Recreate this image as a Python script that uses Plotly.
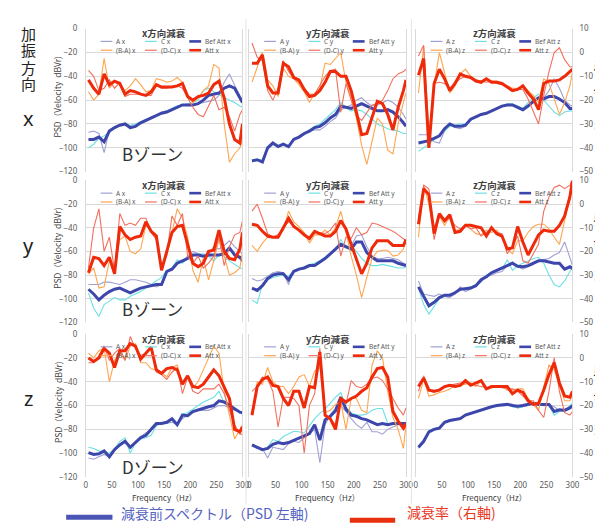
import plotly.graph_objects as go

# ---------------- data ----------------
FREQ = [5, 15, 25, 35, 45, 55, 65, 75, 85, 95, 105, 115, 125, 135, 145, 155, 165, 175,
        185, 195, 205, 215, 225, 235, 245, 255, 265, 275, 285, 295, 300]

X_TICKS = [0, 50, 100, 150, 200, 250, 300]
LEFT_TICKS = [0, -20, -40, -60, -80, -100, -120]
RIGHT_TICKS = [10, 0, -10, -20, -30, -40, -50]
DIRS = ["x", "y", "z"]
PANEL_TITLES = ["x方向減衰", "y方向減衰", "z方向減衰"]
ROW_LABELS = ["x", "y", "z"]
ZONE_LABELS = ["Bゾーン", "Bゾーン", "Dゾーン"]

# row: excitation x / column: direction x
xx_A = [-87,-86,-88,-104,-85,-83,-81,-80,-84,-82,-79,-77,-74,-73,-70,-69,-67,-65,-64,-64,-64,-63,-62,-61,-60,-56,-45,-38,-48,-57,-60]
xx_C = [-100,-97,-92,-90,-87,-84,-81,-80,-81,-80,-78,-76,-75,-73,-71,-69,-67,-65,-64,-63,-62,-60,-52,-50,-53,-55,-58,-60,-62,-65,-66]
xx_bef = [-93,-93,-91,-95,-86,-83,-81,-80,-83,-82,-79,-77,-75,-73,-71,-70,-68,-66,-64,-64,-64,-63,-60,-56,-55,-54,-50,-48,-50,-58,-62]
xx_ba = [-16.5,-20,-17.5,-2.5,-15,-12.5,-13.5,-16,-14,-11,-13.5,-16.5,-16,-11,-11.5,-12.5,-12,-10.5,-12.5,-17.5,-21,-19,-16,-14,-5,-6.5,-30,-46,-42.5,-40,-36.5]
xx_dc = [-7.5,-10,-16,-15,-11.5,-15,-12.5,-18.5,-17.5,-17.5,-17.5,-18,-18,-14,-15,-15,-14.5,-14,-15,-19,-23,-26,-27,-22.5,-18,-24,-23,-27,-33,-26,-24]
xx_att = [-11.5,-15,-17.5,-9,-13.5,-12,-13,-17.5,-16,-16.5,-17.5,-18,-16.5,-13.5,-14.5,-14.5,-14.5,-14,-13,-18.5,-20,-18.5,-18,-17,-13.5,-12,-19,-30,-36.5,-38,-30]

xy_A = [-112,-110,-111,-101,-97,-99,-97,-99,-93,-91,-89,-86,-85,-85,-82,-78,-75,-68,-66,-64,-60,-58,-62,-65,-64,-62,-60,-62,-66,-72,-76]
xy_C = [-110,-110,-110,-100,-97,-98,-96,-99,-92,-91,-88,-85,-82,-80,-76,-72,-68,-62,-66,-69,-68,-69,-72,-76,-80,-82,-84,-85,-86,-88,-88]
xy_bef = [-111,-110,-112,-100,-96,-99,-97,-99,-93,-91,-88,-86,-83,-82,-79,-75,-72,-65,-66,-67,-65,-63,-65,-67,-69,-69,-68,-70,-74,-79,-82]
xy_ba = [-12.5,-6.5,0,-11.5,-14,-18.5,-6.5,-10,-11,-13.5,-16.5,-21,-17,-15,-4.5,-5,-2.5,0,-12.5,-19,-27.5,-39,-47,-37,-27.5,-30,-41,-42.5,-30,-21,-17]
xy_dc = [4,-2,-3.5,-16,-20,-15,-3.5,-8,-11,-12.5,-15,-17.5,-17.5,-14,-10,-7.5,-7,-25,-13,-20,-26.5,-28.5,-25,-22,-21.5,-20,-16,-11,-9,-8,-7]
xy_att = [-4.5,-4.5,-1,-14,-17,-17,-4.5,-6,-10.5,-11.5,-15.5,-18.5,-18,-16,-12.5,-8,-8,-10,-10,-16,-25,-34.5,-34,-27.5,-20.5,-21.5,-26,-32.5,-23,-16,-11.5]

xz_A = [-89,-89,-89,-95,-96,-86,-81,-83,-84,-82,-77,-74,-72,-71,-69,-67,-65,-64,-64,-65,-69,-65,-62,-58,-58,-52,-42,-50,-60,-64,-65]
xz_C = [-103,-100,-97,-93,-90,-86,-82,-81,-80,-80,-77,-74,-72,-71,-69,-67,-65,-63,-63,-65,-67,-62,-58,-55,-60,-65,-70,-73,-70,-69,-69]
xz_bef = [-96,-95,-94,-92,-90,-84,-80,-82,-82,-81,-76,-74,-72,-71,-69,-67,-65,-64,-64,-66,-68,-65,-61,-58,-59,-57,-57,-59,-62,-67,-67]
xz_ba = [-17,2.5,-34,-14,0,-9,-17,-14,-9,-7,-10,-11.5,-12,-11,-12,-12,-13,-14,-15,-15,-14,-16,-18,-21,-11,-13,-20,-26,-21,-14,-8]
xz_dc = [-1.5,3,-39,-13,-12.5,-13,-15,-13,-11,-10,-10.5,-11.5,-12,-12.5,-12,-13,-13.5,-14,-15.5,-15.5,-15.5,-19.5,-25,-30,-18,-8,0,2,-3,-6,-6]
xz_att = [-9.5,-2.5,-40,-13,-7,-11,-16,-13,-9,-10,-10.5,-12,-12.5,-11,-12.5,-12.5,-13,-14.5,-16,-15.5,-14,-17,-19.5,-24,-13,-12,-12,-11.5,-10,-8,-7]

yx_A = [-88,-88,-88,-86,-86,-87,-88,-86,-84,-84,-85,-86,-88,-90,-88,-77,-74,-70,-68,-64,-60,-62,-64,-62,-56,-58,-55,-51,-56,-60,-62]
yx_C = [-95,-108,-115,-105,-102,-99,-101,-101,-98,-96,-94,-91,-88,-85,-82,-76,-74,-67,-70,-66,-64,-62,-62,-64,-68,-63,-64,-68,-71,-74,-75]
yx_bef = [-92,-96,-101,-97,-94,-92,-91,-93,-95,-93,-91,-90,-89,-88,-88,-77,-75,-70,-68,-66,-63,-63,-64,-63,-63,-63,-62,-57,-63,-65,-68]
yx_ba = [-29.5,-27,-35.5,-35,-24,-27,-15,-13.5,-20,-21,-19,-9,-11,-13,-27,-22,-12,-2,-6,-14,-28,-33,-23,-32,-24,-15,-22,-30,-29,-27,-20]
yx_dc = [-27,-10,-2,-20,-14,-28,-4,-9,-8,-9,-6,-6,-12,-15,-26,-21,-5,-9,-4,-22,-25,-22,-27,-25,-22,-14,-26,-18,-13,-12,-7]
yx_att = [-29,-22.5,-23,-26,-22.5,-29.5,-9.5,-13,-15,-14,-13.5,-7.5,-11.5,-13.5,-28,-20,-12,-9.5,-9,-17,-25,-26.5,-25,-20,-19.5,-11,-20,-23,-23.5,-19,-12]

yy_A = [-83,-85,-84,-81,-78,-77,-78,-88,-76,-75,-74,-72,-71,-69,-66,-62,-58,-55,-57,-55,-47,-46,-56,-64,-66,-66,-65,-66,-67,-70,-71]
yy_C = [-101,-104,-88,-84,-82,-81,-80,-81,-77,-75,-73,-71,-70,-68,-65,-62,-58,-50,-57,-55,-60,-66,-70,-72,-72,-71,-72,-73,-74,-74,-73]
yy_bef = [-91,-93,-89,-83,-80,-79,-79,-84,-77,-75,-74,-72,-72,-69,-66,-62,-58,-54,-56,-58,-52,-52,-61,-65,-68,-68,-68,-68,-70,-71,-72]
yy_ba = [-17.5,-20,-16.5,-14,-14,-13,-11,-3,-7.5,-9.5,-12,-16.5,-13,-13,-11,-13,-10,-3,-12,-22,-30,-39.5,-31,-23,-20,-19.5,-19.5,-22,-21.5,-19,-15.5]
yy_dc = [-3,0,-6,-12.5,-14,-13,-10,-7.5,-9,-11,-13,-15,-12,-12,-12.5,-11,-8,-22,-14,-14.5,-10,-13,-12,-8,-8.5,-9.5,-10.5,-11.5,-13,-14.5,-15.5]
yy_att = [-8.5,-9,-11.5,-13.5,-14,-14,-10,-6,-9.5,-11,-13,-14.5,-11.5,-12.5,-13.5,-13.5,-11.5,-7,-10.5,-17,-23,-29.5,-25,-18.5,-15.5,-15.5,-15.5,-17.5,-17.5,-17.5,-15]

yz_A = [-85,-96,-97,-98,-96,-98,-99,-96,-90,-94,-92,-89,-86,-81,-80,-78,-77,-72,-69,-73,-75,-73,-71,-68,-67,-66,-63,-61,-52,-65,-72]
yz_C = [-91,-105,-113,-106,-100,-98,-96,-95,-92,-91,-90,-88,-84,-80,-78,-76,-75,-67,-76,-72,-70,-68,-66,-65,-70,-80,-88,-90,-85,-77,-74]
yz_bef = [-90,-98,-106,-103,-99,-97,-97,-95,-92,-91.5,-91,-89,-84,-81.5,-78,-76,-74,-72,-70,-72.5,-73,-72,-70,-68,-68,-69,-70,-70,-75,-73,-74.5]
yz_ba = [-14,8,0,-12,-5,-9,-5,-11,-11,-9,-10.5,-12.5,-13,-11,-12,-11,-14,-19,-21,-15.5,-15.5,-12,-9.5,-8.5,-8.5,-10.5,-14,-17,-7,5,10]
yz_dc = [-6,8,6.5,-15,-5,-7.5,-6,-9,-10.5,-9,-10.5,-10,-13.5,-12,-10.5,-12,-12.5,-21,-18,-13.5,-24,-25,-21,-17,-3,3,7,8,6.5,8,10]
yz_att = [-8.5,6.5,4,-12.5,-4,-7,-4.5,-12,-11.5,-9,-9,-9.5,-10,-13.5,-10,-12.5,-13.5,-19,-18.5,-9.5,-16,-21.5,-17,-13,-11,-11.5,-11.5,-9,-5,3,10]

zx_A = [-104,-105,-103,-101,-103,-96,-93,-91,-95,-90,-86,-83,-80,-77,-74,-75,-74,-76,-71,-68,-65,-64,-64,-64,-62,-60,-60,-62,-64,-65,-66]
zx_C = [-95,-96,-98,-99,-100,-96,-90,-87,-100,-91,-88,-87,-85,-77,-75,-74,-72,-77,-67,-66,-63,-60,-57,-55,-53,-48,-58,-61,-63,-65,-66]
zx_bef = [-99.5,-101,-100.5,-98,-103,-97,-93,-90,-95,-91,-87,-85,-80,-75,-75,-74,-71,-76,-68,-68.5,-65,-63.5,-62,-61,-60,-56,-57,-60,-63,-65.5,-66]
zx_ba = [2,0,3,4,-10,-1,2,-1,5,6,-2,-2,-4.5,-5,-6,-8,-4,-3,-11,-8,-12.5,-10,-5,0,5,2,-14,-24,-34,-30,-28]
zx_dc = [-2,-2,1,5,-1,2,4,-1,9,4,1,2,4,-6,-7,-9,-6,-4,-15,-8,-14,-15,-13,-13,-13,-11,-15,-22,-28,-32,-32]
zx_att = [0,-1.5,0,4,2,-4,3,3,6,5,-0.5,2,4.5,-5,-6.5,-4.5,-4,-5,-11,-7.5,-12,-12.5,-11,-8,-5,-7.5,-12,-17,-30,-31,-29]

zy_A = [-94,-96,-96,-104,-95,-96,-97,-92,-90,-91,-87,-84,-80,-108,-76,-68,-66,-60,-65,-71,-76,-79,-74,-82,-82,-84,-80,-78,-76,-75,-75]
zy_C = [-93,-95,-98,-95,-88.5,-90,-86,-84,-81.5,-82,-83,-77,-71,-66.5,-63,-58,-53,-49,-61,-66,-68,-68,-67,-64,-62.5,-62.5,-75,-75,-75.5,-76,-76]
zy_bef = [-93,-95,-97,-96,-92.5,-91,-92,-91,-89,-87,-85.5,-83.5,-76,-89,-72,-69,-64,-53,-63,-68,-69,-71,-72,-74,-76,-75,-76,-75,-75,-75,-75]
zy_ba = [-24,-10,-11,-4,-10,-12,-12,-15,-12,-8,-7,-12,-5.5,-4,-23,-22,-19.5,-18.5,-30,-17,-17,-22,-23,-3,3,0,-14,-25,-30,-38,-28]
zy_dc = [-14,-12,-8,-9,-14,-29,-16.5,-16.5,-17,-20,-40,-20,-15,4,-24.5,-25.5,-28,-17,-19.5,-9.5,-12,-12.5,-11,-8.5,-8,-9.5,-13,-17,-21,-24,-21]
zy_att = [-24,-12,-9,-8,-11.5,-12,-17,-20,-14,-14,-21,-12,-12.5,2.5,-24,-25.5,-30,-17,-18.5,-17,-16,-14,-12.5,-8,-4.5,-4,-8,-22.5,-26.5,-29.5,-27.5]

zz_A = [-96,-91,-82,-80,-78,-74,-72,-71,-70,-68,-66,-65,-64,-62,-61,-60,-59.5,-59,-59,-62,-61,-60,-58,-59,-58,-59,-61,-64,-63,-61,-60]
zz_C = [-95,-90,-81,-79,-79,-74,-72,-71,-71,-67,-66,-65,-64,-62,-61,-60,-59,-59,-61,-62,-61,-58,-58,-59,-60,-60,-68,-65,-64,-60,-58]
zz_bef = [-95,-90,-82,-80,-79,-74,-72.5,-71.5,-71,-68,-66.5,-65.5,-64,-62,-61,-60,-59.5,-59,-60,-60.5,-60,-59,-58,-59,-59,-59,-65,-63.5,-64,-62,-60]
zz_ba = [-17,-9,-16,-15.5,-14.5,-14,-13,-11.5,-11.5,-11,-10.5,-12,-9.5,-13,-12.5,-12,-11.5,-13.5,-13.5,-13,-13,-17,-19.5,-22,-12,-3,-5,-11.5,-18,-18,-15.5]
zz_dc = [-14,-7.5,-13.5,-14.5,-13.5,-12.5,-11.5,-11,-10.5,-10.5,-10.5,-11.5,-12,-12.5,-12.5,-12,-12.5,-13,-13,-14,-16,-18,-18,-22,-25,-14,0,-14,-23,-24,-22.5]
zz_att = [-12,-8.5,-13.5,-14,-13.5,-12,-11.5,-12,-11.5,-9.5,-11.5,-10.5,-9.5,-13,-12,-12,-12,-12,-15,-13.5,-14.5,-18,-19.5,-19,-13.5,-7,-2,-10.5,-16,-16.5,-14]

PANELS = {
    (0, 0): (xx_A, xx_C, xx_bef, xx_ba, xx_dc, xx_att),
    (0, 1): (xy_A, xy_C, xy_bef, xy_ba, xy_dc, xy_att),
    (0, 2): (xz_A, xz_C, xz_bef, xz_ba, xz_dc, xz_att),
    (1, 0): (yx_A, yx_C, yx_bef, yx_ba, yx_dc, yx_att),
    (1, 1): (yy_A, yy_C, yy_bef, yy_ba, yy_dc, yy_att),
    (1, 2): (yz_A, yz_C, yz_bef, yz_ba, yz_dc, yz_att),
    (2, 0): (zx_A, zx_C, zx_bef, zx_ba, zx_dc, zx_att),
    (2, 1): (zy_A, zy_C, zy_bef, zy_ba, zy_dc, zy_att),
    (2, 2): (zz_A, zz_C, zz_bef, zz_ba, zz_dc, zz_att),
}

# ---------------- styling / layout ----------------
W, H = 603, 523
COLS = [(77, 236), (243, 402), (412, 571)]
ROWS = [(15, 161), (170, 315), (327, 473)]
ZONE_Y = [142, 301, 462]

C_A = "#9FA0D3"
C_C = "#6EE0E3"
C_BEF = "#3D47AB"
C_BA = "#FFA54F"
C_DC = "#F26F5E"
C_ATT = "#EE2A0A"
GRID = "#D9D9D9"
TXT = "#595959"
JP = "Noto Sans CJK JP"
LAT = "Noto Sans"


def px(x):
    return x / W


def py(y):
    return 1 - y / H


fig = go.Figure()
layout = {}
annotations = []
shapes = []

for r in range(3):
    for c in range(3):
        n = r * 3 + c + 1
        xa = "x" if n == 1 else f"x{n}"
        ya = "y" if n == 1 else f"y{n}"
        y2 = f"y{n + 9}"
        A, Cc, B, BA, DC, AT = PANELS[(r, c)]
        for vals, col, w, yref in [
            (A, C_A, 1.1, ya), (Cc, C_C, 1.1, ya), (B, C_BEF, 3, ya),
            (BA, C_BA, 1.1, y2), (DC, C_DC, 1.1, y2), (AT, C_ATT, 3, y2),
        ]:
            fig.add_trace(go.Scatter(x=FREQ, y=vals, mode="lines",
                                     line=dict(color=col, width=w),
                                     xaxis=xa, yaxis=yref, hoverinfo="skip",
                                     showlegend=False))
        l, rr = COLS[c]
        t, b = ROWS[r]
        xkey = "xaxis" if n == 1 else f"xaxis{n}"
        ykey = "yaxis" if n == 1 else f"yaxis{n}"
        layout[xkey] = dict(domain=[px(l), px(rr)], anchor=ya, range=[0, 300],
                            tickvals=X_TICKS, showticklabels=(r == 2),
                            showgrid=False, zeroline=False, showline=False,
                            ticks="", ticklabelstandoff=2, fixedrange=True,
                            tickfont=dict(size=8, color=TXT, family=LAT))
        layout[ykey] = dict(domain=[py(b), py(t)], anchor=xa, range=[-120, 0],
                            tickvals=LEFT_TICKS, showticklabels=(c == 0),
                            showgrid=True, gridcolor=GRID, gridwidth=1,
                            zeroline=False, showline=True, linecolor=GRID,
                            linewidth=1, mirror=True, ticks="",
                            ticklabelstandoff=6, fixedrange=True,
                            tickfont=dict(size=8, color=TXT, family=LAT))
        layout[f"yaxis{n + 9}"] = dict(overlaying=ya, side="right", anchor=xa,
                                       range=[-50, 10], tickvals=RIGHT_TICKS,
                                       showticklabels=(c == 2), showgrid=False,
                                       zeroline=False, showline=False, ticks="",
                                       ticklabelstandoff=6, fixedrange=True,
                                       tickfont=dict(size=8, color=TXT, family=LAT))
        # panel title
        annotations.append(dict(x=px((l + rr) / 2), y=py(t + 4.5), xref="paper", yref="paper",
                                text=f"<b>{PANEL_TITLES[c]}</b>", showarrow=False,
                                font=dict(size=9.5, color="#404040", family=JP),
                                xanchor="center", yanchor="middle"))
        # in-panel legend
        d = DIRS[c]
        items = [(15, 0, C_A, 1.2, f"A {d}"), (60, 0, C_C, 1.2, f"C {d}"),
                 (105, 0, C_BEF, 2.6, f"Bef Att {d}"),
                 (15, 1, C_BA, 1.2, f"(B-A) {d}"), (60, 1, C_DC, 1.2, f"(D-C) {d}"),
                 (105, 1, C_ATT, 2.6, f"Att {d}")]
        for off, row, col, w, label in items:
            yy = t + 13 + row * 9
            shapes.append(dict(type="line", xref="paper", yref="paper",
                               x0=px(l + off), x1=px(l + off + 12),
                               y0=py(yy), y1=py(yy), line=dict(color=col, width=w)))
            annotations.append(dict(x=px(l + off + 14), y=py(yy), xref="paper", yref="paper",
                                    text=label, showarrow=False,
                                    font=dict(size=6.5, color=TXT, family=LAT),
                                    xanchor="left", yanchor="middle"))
    # row-level texts
    t, b = ROWS[r]
    annotations.append(dict(x=px(48), y=py((t + b) / 2 - 4), xref="paper", yref="paper",
                            text="PSD（Velocity  dBVr)", showarrow=False, textangle=-90,
                            font=dict(size=8.5, color="#404040", family=JP),
                            xanchor="center", yanchor="middle"))
    annotations.append(dict(x=px(596.5), y=py((t + b) / 2 - 4), xref="paper", yref="paper",
                            text="<b>Attenuation(dB)</b>", showarrow=False, textangle=-90,
                            font=dict(size=9, color="#262626", family=LAT),
                            xanchor="center", yanchor="middle"))
    annotations.append(dict(x=px(145), y=py(ZONE_Y[r]), xref="paper", yref="paper",
                            text=ZONE_LABELS[r], showarrow=False,
                            font=dict(size=17, color="#333333", family=JP),
                            xanchor="center", yanchor="middle"))

# Frequency labels under bottom row
for c in range(3):
    l, rr = COLS[c]
    annotations.append(dict(x=px((l + rr) / 2), y=py(494), xref="paper", yref="paper",
                            text="Frequency（Hz）", showarrow=False,
                            font=dict(size=8, color="#404040", family=JP),
                            xanchor="center", yanchor="middle"))

# left vertical label 加振方向 and row letters
for ch, yc in zip("加振方向", [19.5, 36.5, 54.5, 71.5]):
    annotations.append(dict(x=px(19), y=py(yc), xref="paper", yref="paper", text=ch,
                            showarrow=False, font=dict(size=15, color="#222222", family=JP),
                            xanchor="center", yanchor="middle"))
for lab, yc in zip(ROW_LABELS, [107, 236, 393]):
    annotations.append(dict(x=px(19), y=py(yc), xref="paper", yref="paper", text=lab,
                            showarrow=False, font=dict(size=20, color="#222222", family=LAT),
                            xanchor="center", yanchor="middle"))

# chart-area separators
for xs in [239.5, 407.5]:
    shapes.append(dict(type="line", xref="paper", yref="paper", x0=px(xs), x1=px(xs),
                       y0=py(5), y1=py(500), line=dict(color="#E3E3E3", width=1)))

# bottom legend
shapes.append(dict(type="line", xref="paper", yref="paper", x0=px(57), x1=px(104),
                   y0=py(514), y1=py(514), line=dict(color="#4A55B5", width=5)))
annotations.append(dict(x=px(111), y=py(510), xref="paper", yref="paper",
                        text="減衰前スペクトル（PSD 左軸)", showarrow=False,
                        font=dict(size=14, color="#5563C1", family=JP),
                        xanchor="left", yanchor="middle"))
shapes.append(dict(type="line", xref="paper", yref="paper", x0=px(345), x1=px(391),
                   y0=py(517), y1=py(517), line=dict(color="#E8300F", width=5)))
annotations.append(dict(x=px(401), y=py(509), xref="paper", yref="paper",
                        text="減衰率（右軸)", showarrow=False,
                        font=dict(size=14, color="#E8391E", family=JP),
                        xanchor="left", yanchor="middle"))

fig.update_layout(
    width=W, height=H, margin=dict(l=0, r=0, t=0, b=0),
    paper_bgcolor="white", plot_bgcolor="white",
    showlegend=False, annotations=annotations, shapes=shapes,
    **layout,
)

fig.write_html("out.html")
